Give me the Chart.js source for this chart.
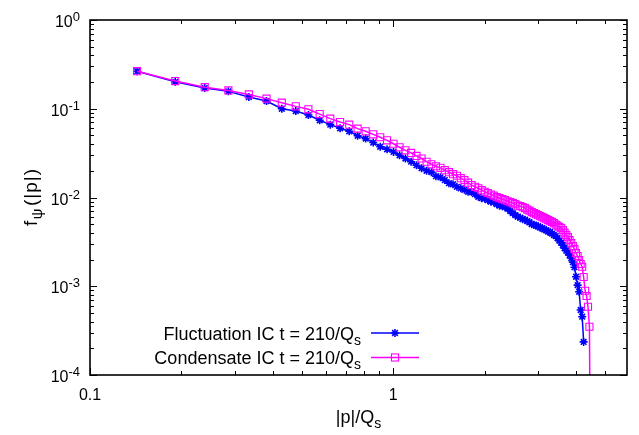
<!DOCTYPE html>
<html>
<head>
<meta charset="utf-8">
<script src="https://cdn.jsdelivr.net/npm/chart.js@4.4.1/dist/chart.umd.min.js"></script>
<style>
  html, body { margin: 0; padding: 0; background: #fff; }
  #c { display: block; }
</style>
</head>
<body>
<canvas id="c" width="639" height="435"></canvas>
<script>
// |p|/Q_s sample points (shared by both runs)
const momentum = [
  0.143, 0.191, 0.239, 0.286, 0.334, 0.382, 0.429, 0.477, 0.525, 0.572,
  0.620, 0.668, 0.716, 0.763, 0.811, 0.859, 0.906, 0.954, 1.002, 1.049,
  1.097, 1.145, 1.193, 1.240, 1.288, 1.336, 1.383, 1.431, 1.479, 1.526,
  1.574, 1.622, 1.670, 1.717, 1.765, 1.813, 1.860, 1.908, 1.956, 2.003,
  2.051, 2.099, 2.147, 2.194, 2.242, 2.290, 2.337, 2.385, 2.433, 2.480,
  2.528, 2.576, 2.624, 2.671, 2.719, 2.767, 2.814, 2.862, 2.910, 2.957,
  3.005, 3.053, 3.101, 3.148, 3.196, 3.244, 3.291, 3.339, 3.387, 3.434,
  3.482, 3.530, 3.578, 3.625, 3.673, 3.721, 3.768, 3.816, 3.864, 3.911,
  3.959, 4.007, 4.055, 4.102, 4.150, 4.198, 4.245, 4.293, 4.341, 4.388,
  4.436, 4.484
];

// f_psi(|p|), fluctuation initial condition (blue, ends at 4.245)
const fluctuationIC = [
  0.265, 0.201, 0.171, 0.157, 0.1355, 0.122, 0.100, 0.0942, 0.0849, 0.0741,
  0.0662, 0.0602, 0.0557, 0.0496, 0.0461, 0.0416, 0.0373, 0.0349, 0.0326, 0.0299,
  0.0275, 0.0253, 0.0231, 0.0214, 0.0200, 0.0193, 0.0174, 0.0169, 0.0157, 0.0145,
  0.0141, 0.0132, 0.0127, 0.0122, 0.0116, 0.0115, 0.0109, 0.0102, 0.00982, 0.00970,
  0.00933, 0.00897, 0.00885, 0.00841, 0.00809, 0.00798, 0.00778, 0.00748, 0.00701, 0.00666,
  0.00632, 0.00608, 0.00593, 0.00570, 0.00562, 0.00541, 0.00527, 0.00501, 0.00494, 0.00482,
  0.00475, 0.00457, 0.00452, 0.00435, 0.00429, 0.00412, 0.00407, 0.00392, 0.00377, 0.00367,
  0.00348, 0.00327, 0.00310, 0.00290, 0.00269, 0.00252, 0.00239, 0.00224, 0.00207, 0.00187,
  0.00164, 0.00128, 0.00103, 0.000867, 0.000540, 0.000454, 0.000236
];

// f_psi(|p|), condensate initial condition (magenta)
const condensateIC = [
  0.265, 0.205, 0.175, 0.161, 0.145, 0.130, 0.117, 0.1064, 0.0985, 0.0871,
  0.0774, 0.0708, 0.0662, 0.0597, 0.0557, 0.0515, 0.0477, 0.0441, 0.0403, 0.0368,
  0.0340, 0.0318, 0.0294, 0.0275, 0.0253, 0.0237, 0.0225, 0.0216, 0.0203, 0.0193,
  0.0183, 0.0176, 0.0165, 0.0157, 0.0147, 0.0138, 0.0132, 0.0127, 0.0121, 0.0116,
  0.0112, 0.0108, 0.0105, 0.0101, 0.00982, 0.00957, 0.00933, 0.00908, 0.00885, 0.00863,
  0.00841, 0.00809, 0.00798, 0.00778, 0.00759, 0.00730, 0.00711, 0.00684, 0.00666, 0.00649,
  0.00632, 0.00616, 0.00600, 0.00585, 0.00570, 0.00556, 0.00541, 0.00532, 0.00514, 0.00494,
  0.00482, 0.00463, 0.00452, 0.00429, 0.00402, 0.00377, 0.00357, 0.00331, 0.00306, 0.00283,
  0.00262, 0.00236, 0.00219, 0.00197, 0.00178, 0.00166, 0.00127, 0.000889, 0.000776, 0.000588,
  0.000350, 0.000001
];

const seriesLabels = ['Fluctuation IC t = 210/Q', 'Condensate IC t = 210/Q'];
const seriesColors = ['rgb(0,0,255)', 'rgb(255,0,255)'];
const xTickValues = [0.1, 1];
const xTickLabels = ['0.1', '1'];
const yTickValues = [1, 0.1, 0.01, 0.001, 0.0001];
const yTickExponents = ['0', '-1', '-2', '-3', '-4'];

const FONT = '"Liberation Sans", Arial, Helvetica, sans-serif';

function toPoints(ys) {
  return ys.map((v, i) => ({ x: momentum[i], y: v }));
}

// text with super/subscripts: parts = [{t, size, dy, gap}]
function drawRich(ctx, parts, x, y, align) {
  let w = 0;
  parts.forEach(p => {
    ctx.font = p.size + 'px ' + FONT;
    p.w = ctx.measureText(p.t).width + (p.gap || 0);
    w += p.w;
  });
  let cx = align === 'right' ? x - w : align === 'center' ? x - w / 2 : x;
  ctx.textAlign = 'left';
  ctx.textBaseline = 'alphabetic';
  parts.forEach(p => {
    ctx.font = p.size + 'px ' + FONT;
    ctx.fillText(p.t, cx, y + (p.dy || 0));
    cx += p.w;
  });
}

function isDecadeMultiple(v) {
  const e = Math.floor(Math.log10(v) + 1e-9);
  const m = v / Math.pow(10, e);
  return Math.abs(m - Math.round(m)) < 1e-6;
}

function line(ctx, x1, y1, x2, y2) {
  ctx.beginPath();
  ctx.moveTo(x1, y1);
  ctx.lineTo(x2, y2);
  ctx.stroke();
}

const gnuplotFrame = {
  id: 'gnuplotFrame',
  afterDraw(chart) {
    const { ctx, chartArea: a } = chart;
    const xs = chart.scales.x;
    const ys = chart.scales.y;
    ctx.save();
    ctx.strokeStyle = '#000';
    ctx.fillStyle = '#000';

    // inward ticks on all four sides
    ctx.lineWidth = 1;
    xs.ticks.forEach(t => {
      const v = t.value;
      if (v < xs.min - 1e-12 || v > xs.max + 1e-12 || !isDecadeMultiple(v)) return;
      const px = Math.round(xs.getPixelForValue(v)) + 0.5;
      const len = xTickValues.some(m => Math.abs(m - v) < 1e-9) ? 7 : 4;
      line(ctx, px, a.bottom, px, a.bottom - len);
      line(ctx, px, a.top, px, a.top + len);
    });
    ys.ticks.forEach(t => {
      const v = t.value;
      if (v < ys.min * 0.999 || v > ys.max * 1.001 || !isDecadeMultiple(v)) return;
      const py = Math.round(ys.getPixelForValue(v)) + 0.5;
      const len = yTickValues.some(m => Math.abs(m - v) < v * 1e-6) ? 7 : 4;
      line(ctx, a.left, py, a.left + len, py);
      line(ctx, a.right, py, a.right - len, py);
    });

    ctx.lineWidth = 1.6;
    ctx.strokeRect(a.left, a.top, a.right - a.left, a.bottom - a.top);

    // tick labels
    xTickValues.forEach((v, i) => {
      ctx.font = '16px ' + FONT;
      ctx.textAlign = 'center';
      ctx.textBaseline = 'alphabetic';
      ctx.fillText(xTickLabels[i], xs.getPixelForValue(v), a.bottom + 25);
    });
    yTickValues.forEach((v, i) => {
      const py = ys.getPixelForValue(v);
      drawRich(ctx, [
        { t: '10', size: 16 },
        { t: yTickExponents[i], size: 13, dy: -6 }
      ], 80, py + 7, 'right');
    });

    // axis titles
    drawRich(ctx, [
      { t: '|p|/Q', size: 18 },
      { t: 's', size: 14, dy: 5 }
    ], (a.left + a.right) / 2, a.bottom + 48, 'center');

    ctx.save();
    ctx.translate(37, (a.top + a.bottom) / 2);
    ctx.rotate(-Math.PI / 2);
    drawRich(ctx, [
      { t: 'f', size: 19, gap: 1.5 },
      { t: 'ψ', size: 15, dy: 5, gap: 2.5 },
      { t: '(', size: 19, gap: 1 },
      { t: '|', size: 19, gap: 1 },
      { t: 'p', size: 19, gap: 1 },
      { t: '|', size: 19, gap: 1 },
      { t: ')', size: 19 }
    ], 0, 0, 'center');
    ctx.restore();

    // key, bottom left inside the frame
    const rowY = [333, 357.5];
    chart.data.datasets.forEach((ds, i) => {
      const y = rowY[i];
      ctx.fillStyle = '#000';
      drawRich(ctx, [
        { t: seriesLabels[i], size: 18 },
        { t: 's', size: 14, dy: 5 }
      ], 361, y + 6.5, 'right');
      ctx.strokeStyle = ds.borderColor;
      ctx.lineWidth = ds.borderWidth;
      line(ctx, 371, y, 419, y);
      const cx = 395;
      ctx.lineWidth = ds.pointBorderWidth;
      if (ds.pointStyle === 'rect') {
        const h = ds.pointRadius * Math.SQRT1_2;
        ctx.strokeRect(cx - h, y - h, 2 * h, 2 * h);
      } else {
        const r = ds.pointRadius;
        const d = r * Math.SQRT1_2;
        line(ctx, cx - r, y, cx + r, y);
        line(ctx, cx, y - r, cx, y + r);
        line(ctx, cx - d, y - d, cx + d, y + d);
        line(ctx, cx - d, y + d, cx + d, y - d);
      }
    });
    ctx.restore();
  }
};

new Chart(document.getElementById('c'), {
  type: 'line',
  data: {
    datasets: [
      {
        label: seriesLabels[0],
        data: toPoints(fluctuationIC),
        borderColor: seriesColors[0],
        backgroundColor: seriesColors[0],
        borderWidth: 1.5,
        pointStyle: 'star',
        pointRadius: 4,
        pointBorderWidth: 1.6,
        pointBorderColor: seriesColors[0],
        tension: 0,
        order: 2
      },
      {
        label: seriesLabels[1],
        data: toPoints(condensateIC),
        borderColor: seriesColors[1],
        backgroundColor: 'rgba(0,0,0,0)',
        borderWidth: 1.5,
        pointStyle: 'rect',
        pointRadius: 5,
        pointBorderWidth: 1.1,
        pointBorderColor: seriesColors[1],
        pointBackgroundColor: 'rgba(0,0,0,0)',
        tension: 0,
        order: 1
      }
    ]
  },
  options: {
    responsive: false,
    animation: false,
    devicePixelRatio: 1,
    layout: { padding: { left: 90, top: 20, right: 12, bottom: 60 } },
    plugins: { legend: { display: false }, tooltip: { enabled: false } },
    scales: {
      x: {
        type: 'logarithmic',
        min: 0.1,
        max: 5.9,
        grid: { display: false, drawTicks: false, tickLength: 0 },
        border: { display: false },
        ticks: { display: false, padding: 0 },
        title: { display: false }
      },
      y: {
        type: 'logarithmic',
        min: 0.0001,
        max: 1,
        grid: { display: false, drawTicks: false, tickLength: 0 },
        border: { display: false },
        ticks: { display: false, padding: 0 },
        title: { display: false }
      }
    }
  },
  plugins: [gnuplotFrame]
});
</script>
</body>
</html>
